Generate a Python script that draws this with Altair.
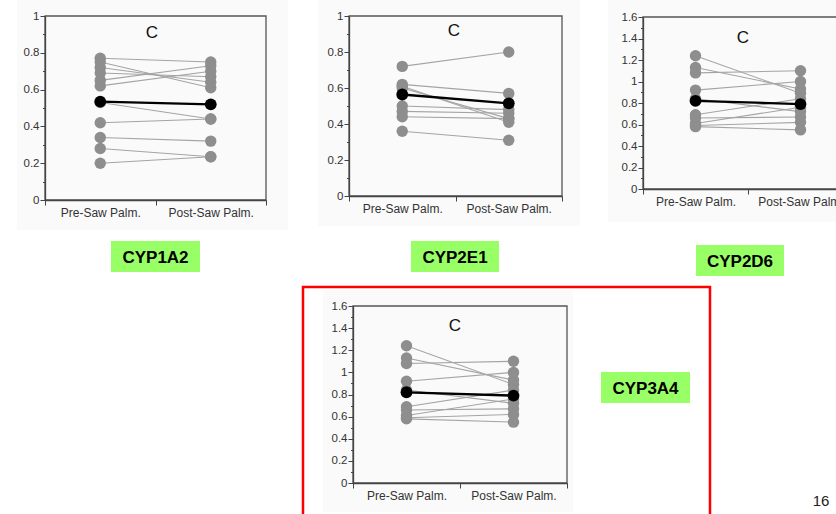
import altair as alt
import pandas as pd

W, H = 836, 514

# ---------------- data ----------------
phase_names = ["Pre-Saw Palm.", "Post-Saw Palm."]

cyp1a2_pre = [0.77, 0.75, 0.72, 0.69, 0.65, 0.62, 0.53, 0.42, 0.34, 0.28, 0.20]
cyp1a2_post = [0.75, 0.61, 0.64, 0.67, 0.73, 0.70, 0.44, 0.44, 0.32, 0.235, 0.235]
cyp1a2_mean = [0.535, 0.52]

cyp2e1_pre = [0.72, 0.62, 0.61, 0.60, 0.50, 0.47, 0.44, 0.36]
cyp2e1_post = [0.80, 0.57, 0.41, 0.43, 0.48, 0.46, 0.43, 0.31]
cyp2e1_mean = [0.564, 0.515]

cyp2d6_pre = [1.24, 1.13, 1.08, 0.92, 0.84, 0.69, 0.66, 0.61, 0.59, 0.58]
cyp2d6_post = [0.89, 0.93, 1.10, 1.00, 0.72, 0.84, 0.67, 0.76, 0.62, 0.55]
cyp2d6_mean = [0.82, 0.79]

cyp3a4_pre = [1.24, 1.13, 1.08, 0.92, 0.84, 0.69, 0.66, 0.61, 0.59, 0.58]
cyp3a4_post = [0.89, 0.93, 1.10, 1.00, 0.72, 0.84, 0.67, 0.76, 0.62, 0.55]
cyp3a4_mean = [0.82, 0.79]

enzyme_labels = ["CYP1A2", "CYP2E1", "CYP2D6", "CYP3A4"]
panel_letter = "C"
page_number = "16"

FONT = "Liberation Sans"


def long_df(pre, post):
    rows = []
    for i, (a, b) in enumerate(zip(pre, post)):
        rows.append({"subject": i, "phase": 0, "value": a})
        rows.append({"subject": i, "phase": 1, "value": b})
    return pd.DataFrame(rows)


def mean_df(mean):
    return pd.DataFrame({"phase": [0, 1], "value": mean})


def panel(pre, post, mean, ymax, xr, yr, cpos):
    """Returns a flat list of unit charts sharing identical explicit scales."""
    def xs():
        return alt.Scale(domain=[-0.5, 1.5], range=xr, nice=False, zero=False)

    def ys():
        return alt.Scale(domain=[0, ymax], range=yr, nice=False, zero=False)

    step = (xr[1] - xr[0]) / 2.0
    nminor = int(round(ymax * 10))
    yvals = [round(i / 10.0, 1) for i in range(nminor + 1)]
    xaxis = alt.Axis(
        orient="bottom", offset=-(H - yr[0]), values=[-0.5, 0.5, 1.5],
        labelExpr=("datum.value == -0.5 ? '%s' : (datum.value == 0.5 ? '%s' : '')"
                   % (phase_names[0], phase_names[1])),
        labelOffset=step / 2.0, labelAlign="center", labelFlush=False,
        labelOverlap=False, labelBound=False, labelPadding=2,
        labelFont=FONT, labelFontSize=12, labelColor="#333",
        tickSize=5, tickColor="#444", domainColor="#444", domainWidth=1.3,
        grid=False, title=None, zindex=1,
    )
    yaxis = alt.Axis(
        orient="left", offset=-xr[0], values=yvals,
        labelExpr="(round(datum.value*10) % 2 == 0) ? format(datum.value, '~g') : ''",
        tickSize={"condition": {"test": "round(datum.value*10) % 2 != 0", "value": 2.5},
                  "value": 5},
        labelFlush=False, labelOverlap=False, labelBound=False, labelPadding=1,
        labelFont=FONT, labelFontSize=11.5, labelColor="#333",
        tickColor="#444", domainColor="#444", domainWidth=1.3,
        grid=False, title=None, zindex=1,
    )
    d = long_df(pre, post)
    m = mean_df(mean)
    one = pd.DataFrame({"k": [0]})

    frame = alt.Chart(one).mark_rect(fillOpacity=0, stroke="#555", strokeWidth=1.3).encode(
        x=alt.XDatum(-0.5, type="quantitative", scale=xs(), axis=xaxis),
        x2=alt.X2Datum(1.5),
        y=alt.YDatum(0, type="quantitative", scale=ys(), axis=yaxis),
        y2=alt.Y2Datum(ymax),
    )
    lines = alt.Chart(d).mark_line(color="#a4a4a4", strokeWidth=1.1).encode(
        x=alt.X("phase:Q", scale=xs(), axis=None),
        y=alt.Y("value:Q", scale=ys(), axis=None),
        detail="subject:N",
    )
    pts = alt.Chart(d).mark_circle(color="#8e8e8e", size=130, opacity=1).encode(
        x=alt.X("phase:Q", scale=xs(), axis=None),
        y=alt.Y("value:Q", scale=ys(), axis=None),
    )
    mline = alt.Chart(m).mark_line(color="black", strokeWidth=2.3).encode(
        x=alt.X("phase:Q", scale=xs(), axis=None),
        y=alt.Y("value:Q", scale=ys(), axis=None),
    )
    mpts = alt.Chart(m).mark_circle(color="black", size=140, opacity=1).encode(
        x=alt.X("phase:Q", scale=xs(), axis=None),
        y=alt.Y("value:Q", scale=ys(), axis=None),
    )
    ctext = alt.Chart(one).mark_text(
        text=panel_letter, font=FONT, fontSize=17, color="#111",
        align="center", baseline="middle",
    ).encode(x=alt.value(cpos[0]), y=alt.value(cpos[1]))
    return [frame, lines, pts, mline, mpts, ctext]


def bg(x0, x1, y0, y1, color="#fafafa"):
    return alt.Chart(pd.DataFrame({"k": [0]})).mark_rect(color=color).encode(
        x=alt.value(x0), x2=alt.value(x1), y=alt.value(y0), y2=alt.value(y1))


def tag(text, x0, x1, y0, y1):
    box = alt.Chart(pd.DataFrame({"t": [text]})).mark_rect(color="#99ff66").encode(
        x=alt.value(x0), x2=alt.value(x1), y=alt.value(y0), y2=alt.value(y1))
    txt = alt.Chart(pd.DataFrame({"t": [text]})).mark_text(
        font=FONT, fontWeight="bold", fontSize=17, color="black",
        align="center", baseline="middle",
    ).encode(text="t:N", x=alt.value((x0 + x1) / 2.0), y=alt.value((y0 + y1) / 2.0 + 1))
    return [box, txt]


layers = [
    bg(17, 288, 0, 230),
    bg(318, 580, 0, 226),
    bg(608, 836, 0, 222),
    bg(323, 573, 290, 512),
]
layers += panel(cyp1a2_pre, cyp1a2_post, cyp1a2_mean, 1.0, [45, 266], [200, 16], (152, 33))
layers += panel(cyp2e1_pre, cyp2e1_post, cyp2e1_mean, 1.0, [349, 562], [196, 16], (454, 31))
layers += panel(cyp2d6_pre, cyp2d6_post, cyp2d6_mean, 1.6, [643, 853], [189, 17], (743, 38))
layers += panel(cyp3a4_pre, cyp3a4_post, cyp3a4_mean, 1.6, [353, 567], [483, 306], (455, 326))
layers += tag(enzyme_labels[0], 111, 200, 241, 272)
layers += tag(enzyme_labels[1], 411, 499, 241, 272)
layers += tag(enzyme_labels[2], 696, 784, 245, 276)
layers += tag(enzyme_labels[3], 601, 690, 372, 403)

red = alt.Chart(pd.DataFrame({"k": [0]})).mark_rect(
    fillOpacity=0, stroke="#ff0000", strokeWidth=2.5).encode(
    x=alt.value(303), x2=alt.value(710), y=alt.value(287), y2=alt.value(540))
page = alt.Chart(pd.DataFrame({"t": [page_number]})).mark_text(
    font=FONT, fontSize=15, color="#222", align="center", baseline="middle",
).encode(text="t:N", x=alt.value(821), y=alt.value(501))
layers += [red, page]

chart = (
    alt.layer(*layers)
    .resolve_scale(x="independent", y="independent")
    .resolve_axis(x="independent", y="independent")
    .properties(width=W, height=H, padding=0, autosize=alt.AutoSizeParams(type="none"),
                background="white")
    .configure_view(strokeWidth=0)
)

chart.save("out.html", embed_options={"renderer": "svg", "actions": False})
